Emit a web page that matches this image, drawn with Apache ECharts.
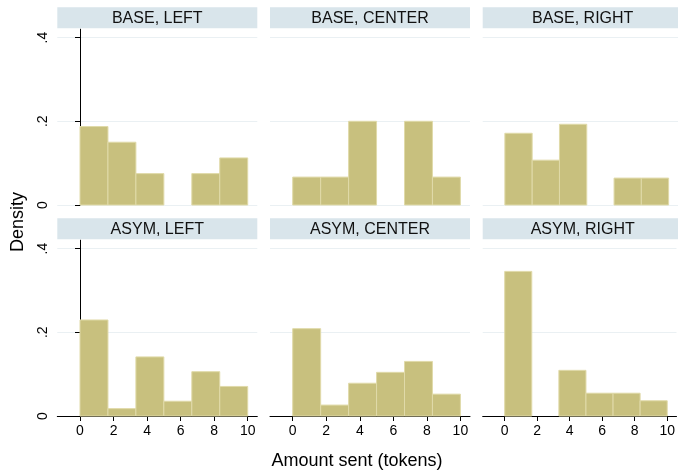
<!DOCTYPE html>
<html>
<head>
<meta charset="utf-8">
<script src="https://cdn.jsdelivr.net/npm/echarts@6/dist/echarts.min.js"></script>
<style>html,body{margin:0;padding:0;background:#fff}#c{width:678px;height:472px}</style>
</head>
<body>
<div id="c"></div>
<script>
// Histogram bin edges (tokens)
const binEdges = [0, 1.667, 3.333, 5, 6.667, 8.333, 10];
// Densities per bin
const baseLeft   = [0.1875, 0.15,   0.075,  0,      0.075,  0.1125];
const baseCenter = [0.0667, 0.0667, 0.2,    0,      0.2,    0.0667];
const baseRight  = [0.1714, 0.1071, 0.1929, 0,      0.0643, 0.0643];
const asymLeft   = [0.2294, 0.0176, 0.1412, 0.0353, 0.1059, 0.0706];
const asymCenter = [0.2087, 0.0261, 0.0783, 0.1043, 0.1304, 0.0522];
const asymRight  = [0.3455, 0,      0.1091, 0.0545, 0.0545, 0.0364];
const panelTitles = ['BASE, LEFT', 'BASE, CENTER', 'BASE, RIGHT', 'ASYM, LEFT', 'ASYM, CENTER', 'ASYM, RIGHT'];
const xTicks = [0, 2, 4, 6, 8, 10];
const yTicks = [0, 0.2, 0.4];
const yTickLabels = ['0', '.2', '.4'];
const xTitle = 'Amount sent (tokens)';
const yTitle = 'Density';

const panels = [baseLeft, baseCenter, baseRight, asymLeft, asymCenter, asymRight];

const FONT = '"Liberation Sans", Arial, Helvetica, sans-serif';
const colLeft = [57.3, 270, 482.7];
const panelW = 200;
const rowTop = [29.2, 240.2];
const panelH = 175.8;
const headerTop = [7.3, 218.3];
const headerH = 21;
const xMin = -1.354, xMax = 10.572;
const yMin = 0, yMax = 0.42;

const grids = [], xAxes = [], yAxes = [], series = [], graphics = [];

panels.forEach((vals, i) => {
  const r = Math.floor(i / 3), c = i % 3;
  grids.push({left: colLeft[c], top: rowTop[r], width: panelW, height: panelH, containLabel: false});
  const bottomRow = r === 1;
  xAxes.push({
    type: 'value', gridIndex: i, min: xMin, max: xMax,
    axisLine: {show: bottomRow, onZero: false, lineStyle: {color: '#000', width: 1}},
    axisTick: {show: bottomRow, length: 5, lineStyle: {color: '#000'}, customValues: xTicks},
    axisLabel: {show: bottomRow, customValues: xTicks, fontFamily: FONT, fontSize: 14, color: '#000', margin: 8},
    splitLine: {show: false}
  });
  const leftCol = c === 0;
  yAxes.push({
    type: 'value', gridIndex: i, min: yMin, max: yMax,
    axisLine: {show: leftCol, lineStyle: {color: '#000', width: 1}},
    axisTick: {show: leftCol, length: 5, lineStyle: {color: '#000'}, customValues: yTicks},
    axisLabel: {
      show: leftCol, customValues: yTicks, rotate: 90, fontFamily: FONT, fontSize: 14, color: '#000', margin: 7,
      formatter: v => { const k = yTicks.findIndex(t => Math.abs(t - v) < 1e-6); return k >= 0 ? yTickLabels[k] : ''; }
    },
    splitLine: {show: true, lineStyle: {color: '#eaf0f3', width: 1}}
  });
  const data = [];
  vals.forEach((v, j) => { if (v > 0) data.push([binEdges[j], binEdges[j + 1], v]); });
  series.push({
    type: 'custom', xAxisIndex: i, yAxisIndex: i, data: data,
    encode: {x: [0, 1], y: 2},
    renderItem: (params, api) => {
      const p0 = api.coord([api.value(0), api.value(2)]);
      const p1 = api.coord([api.value(1), 0]);
      return {type: 'rect', shape: {x: p0[0], y: p0[1], width: p1[0] - p0[0], height: p1[1] - p0[1]},
        style: {fill: '#c8c07e', stroke: '#e0daa9', lineWidth: 1}};
    }
  });
  graphics.push({type: 'rect', left: colLeft[c], top: headerTop[r], shape: {x: 0, y: 0, width: panelW, height: headerH},
    style: {fill: '#d9e5eb'}, silent: true});
  graphics.push({type: 'text', x: colLeft[c] + panelW / 2, y: headerTop[r] + headerH / 2 + 0.5,
    style: {text: panelTitles[i], font: '16px ' + FONT, fill: '#111', align: 'center', verticalAlign: 'middle'}});
});

graphics.push({type: 'text', x: 18, y: 222, rotation: Math.PI / 2,
  style: {text: yTitle, font: '18px ' + FONT, fill: '#000', align: 'center', verticalAlign: 'middle'}});
graphics.push({type: 'text', x: 357, y: 461.5,
  style: {text: xTitle, font: '18px ' + FONT, fill: '#000', align: 'center', verticalAlign: 'middle'}});

const chart = echarts.init(document.getElementById('c'), null, {renderer: 'canvas'});
chart.setOption({
  animation: false,
  backgroundColor: '#fff',
  grid: grids, xAxis: xAxes, yAxis: yAxes, series: series, graphic: graphics
});
</script>
</body>
</html>
